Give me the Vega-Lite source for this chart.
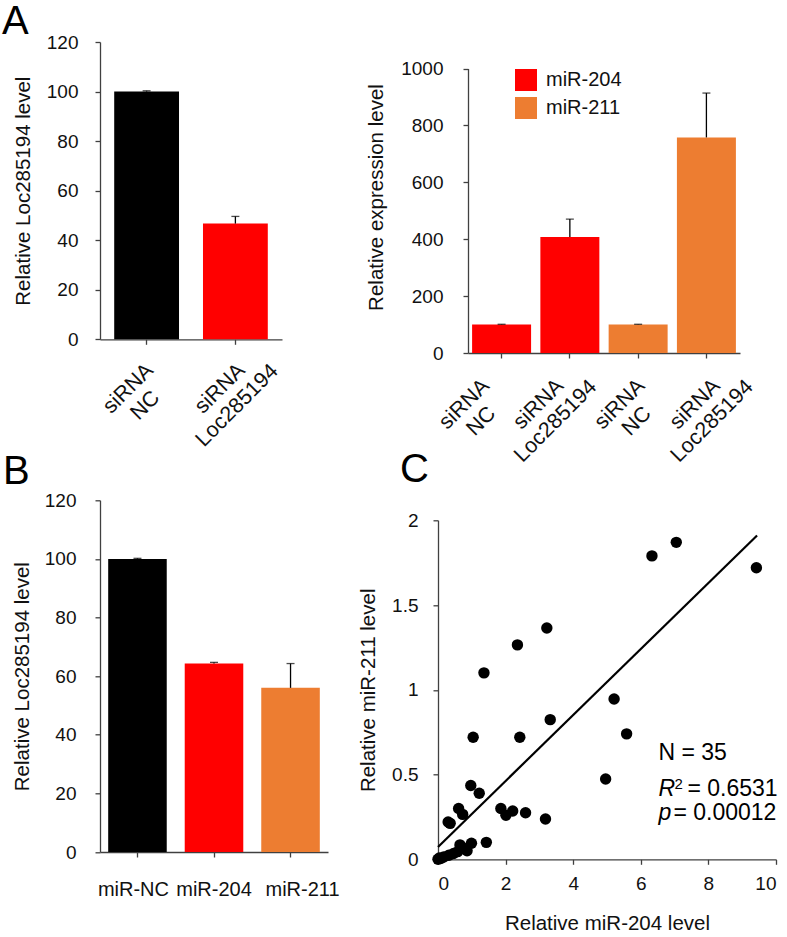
{
  "$schema": "https://vega.github.io/schema/vega-lite/v6.json",
  "padding": {"left": 2, "top": 2, "right": 0, "bottom": 0},
  "background": "white",
  "columns": 2,
  "bounds": "flush",
  "align": "each",
  "spacing": {"row": 147.3, "column": 0},
  "config": {
    "font": "Liberation Sans",
    "view": {"stroke": null},
    "axis": {
      "grid": false,
      "domainColor": "#404040",
      "tickColor": "#404040",
      "domainWidth": 1.3,
      "tickWidth": 1.3,
      "tickSize": 5,
      "labelColor": "#111111",
      "titleColor": "#111111",
      "labelFont": "Liberation Sans",
      "titleFont": "Liberation Sans",
      "labelFontSize": 19,
      "titleFontSize": 20.5,
      "titleFontWeight": "normal"
    },
    "title": {"font": "Liberation Sans", "fontWeight": "normal", "fontSize": 40, "color": "#000000", "anchor": "start", "frame": "group", "baseline": "alphabetic"}
  },
  "resolve": {"scale": {"color": "independent", "x": "independent", "y": "independent"}, "legend": {"color": "independent"}},
  "concat": [
    {
      "width": 338,
      "height": 297.3,
      "title": {"text": "A", "dx": -98, "offset": -9},
      "data": {"values": [
        {"cat": "NC", "v": 100, "hi": 100.3},
        {"cat": "Loc", "v": 46.7, "hi": 49.6}
      ]},
      "encoding": {
        "x": {"field": "cat", "type": "nominal", "sort": null,
          "scale": {"range": [0, 182], "paddingInner": 0.27, "paddingOuter": 0.16},
          "axis": {"title": null, "labelAngle": -45, "labelAlign": "center", "labelBaseline": "middle",
            "labelOffset": {"condition": {"test": "datum.value == 'NC'", "value": -18}, "value": -15},
            "labelPadding": 44, "labelLineHeight": 24, "labelFontSize": 21.5, "labelOverlap": false,
            "labelExpr": "datum.value == 'NC' ? ['siRNA','NC'] : ['siRNA','Loc285194']"}}
      },
      "layer": [
        {"mark": {"type": "bar"},
         "encoding": {
           "y": {"field": "v", "type": "quantitative", "scale": {"domain": [0, 120]},
             "axis": {"title": "Relative Loc285194 level", "values": [0, 20, 40, 60, 80, 100, 120], "labelPadding": 17, "titlePadding": 13}},
           "color": {"field": "cat", "type": "nominal", "scale": {"domain": ["NC", "Loc"], "range": ["#000000", "#ff0000"]}, "legend": null}
         }},
        {"mark": {"type": "rule", "color": "#000000", "strokeWidth": 1.3},
         "encoding": {"y": {"field": "v", "type": "quantitative"}, "y2": {"field": "hi"}}},
        {"mark": {"type": "tick", "color": "#000000", "size": 8, "thickness": 1.3},
         "encoding": {"y": {"field": "hi", "type": "quantitative"}}}
      ]
    },
    {
      "width": 302,
      "height": 311,
      "data": {"values": [
        {"cat": "a", "mir": "miR-204", "v": 100, "hi": 101},
        {"cat": "b", "mir": "miR-204", "v": 408, "hi": 471},
        {"cat": "c", "mir": "miR-211", "v": 100, "hi": 101},
        {"cat": "d", "mir": "miR-211", "v": 758, "hi": 914}
      ]},
      "encoding": {
        "x": {"field": "cat", "type": "nominal", "sort": null,
          "scale": {"range": [30, 302], "paddingInner": 0.136, "paddingOuter": 0.06},
          "axis": {"title": null, "labelAngle": -45, "labelAlign": "center", "labelBaseline": "middle",
            "labelOffset": {"condition": [{"test": "datum.value == 'a'", "value": -37}, {"test": "datum.value == 'b'", "value": -31}, {"test": "datum.value == 'c'", "value": -18}], "value": -11},
            "labelPadding": 46, "labelLineHeight": 24, "labelFontSize": 21.5, "labelOverlap": false,
            "labelExpr": "(datum.value == 'a' || datum.value == 'c') ? ['siRNA','NC'] : ['siRNA','Loc285194']"}}
      },
      "layer": [
        {"mark": {"type": "bar"},
         "encoding": {
           "y": {"field": "v", "type": "quantitative", "scale": {"domain": [0, 1000], "range": [311, 26.6]},
             "axis": {"title": "Relative expression level", "values": [0, 200, 400, 600, 800, 1000], "format": "d", "offset": -30, "labelPadding": 20, "titlePadding": 14, "titleY": 155}},
           "color": {"field": "mir", "type": "nominal", "scale": {"domain": ["miR-204", "miR-211"], "range": ["#ff0000", "#ed7d31"]},
             "legend": {"orient": "none", "legendX": 77, "legendY": 27, "title": null, "symbolType": "square", "symbolSize": 484, "symbolStrokeWidth": 0, "symbolOpacity": 1, "labelFontSize": 20, "labelFont": "Liberation Sans", "labelColor": "#111111", "rowPadding": 6, "labelOffset": 9}}
         }},
        {"mark": {"type": "rule", "color": "#000000", "strokeWidth": 1.3},
         "encoding": {"y": {"field": "v", "type": "quantitative"}, "y2": {"field": "hi"}}},
        {"mark": {"type": "tick", "color": "#000000", "size": 8, "thickness": 1.3},
         "encoding": {"y": {"field": "hi", "type": "quantitative"}}}
      ]
    },
    {
      "width": 338,
      "height": 351.7,
      "title": {"text": "B", "dx": -97, "offset": -1},
      "data": {"values": [
        {"cat": "miR-NC", "v": 100, "hi": 100.2},
        {"cat": "miR-204", "v": 64.3, "hi": 64.7},
        {"cat": "miR-211", "v": 56, "hi": 64.3}
      ]},
      "encoding": {
        "x": {"field": "cat", "type": "nominal", "sort": null,
          "scale": {"range": [0, 228], "paddingInner": 0.235, "paddingOuter": 0.107},
          "axis": {"title": null, "labelAngle": 0, "labelAlign": "center", "labelBaseline": "top", "labelFontSize": 20, "labelPadding": 22,
            "labelOffset": {"condition": [{"test": "datum.value == 'miR-NC'", "value": -4}, {"test": "datum.value == 'miR-211'", "value": 12}], "value": 0}}}
      },
      "layer": [
        {"mark": {"type": "bar"},
         "encoding": {
           "y": {"field": "v", "type": "quantitative", "scale": {"domain": [0, 120]},
             "axis": {"title": "Relative Loc285194 level", "values": [0, 20, 40, 60, 80, 100, 120], "labelPadding": 19, "titlePadding": 12}},
           "color": {"field": "cat", "type": "nominal", "scale": {"domain": ["miR-NC", "miR-204", "miR-211"], "range": ["#000000", "#ff0000", "#ed7d31"]}, "legend": null}
         }},
        {"mark": {"type": "rule", "color": "#000000", "strokeWidth": 1.3},
         "encoding": {"y": {"field": "v", "type": "quantitative"}, "y2": {"field": "hi"}}},
        {"mark": {"type": "tick", "color": "#000000", "size": 8, "thickness": 1.3},
         "encoding": {"y": {"field": "hi", "type": "quantitative"}}}
      ]
    },
    {
      "width": 338,
      "height": 359,
      "title": {"text": "C", "dx": -38, "offset": 10},
      "layer": [
        {"data": {"values": [
          {"x": 6.33, "y": 1.79}, {"x": 7.05, "y": 1.87}, {"x": 9.42, "y": 1.72},
          {"x": 3.22, "y": 1.365}, {"x": 2.35, "y": 1.265}, {"x": 1.36, "y": 1.10},
          {"x": 5.21, "y": 0.946}, {"x": 3.32, "y": 0.824}, {"x": 1.04, "y": 0.72},
          {"x": 2.42, "y": 0.72}, {"x": 5.58, "y": 0.74}, {"x": 4.96, "y": 0.474},
          {"x": 0.97, "y": 0.435}, {"x": 1.22, "y": 0.39}, {"x": 0.61, "y": 0.30},
          {"x": 0.73, "y": 0.265}, {"x": 0.30, "y": 0.22}, {"x": 0.36, "y": 0.212},
          {"x": 1.86, "y": 0.30}, {"x": 2.01, "y": 0.26}, {"x": 2.21, "y": 0.285},
          {"x": 2.59, "y": 0.275}, {"x": 3.18, "y": 0.238}, {"x": 1.43, "y": 0.10},
          {"x": 0.99, "y": 0.095}, {"x": 0.65, "y": 0.085}, {"x": 0.86, "y": 0.05},
          {"x": 0.72, "y": 0.07}, {"x": 0.0, "y": 0.0}, {"x": 0.08, "y": 0.005},
          {"x": 0.17, "y": 0.014}, {"x": 0.32, "y": 0.024}, {"x": 0.46, "y": 0.034},
          {"x": 0.58, "y": 0.045}, {"x": 0.04, "y": 0.008}
        ]},
         "mark": {"type": "circle", "size": 130, "color": "#000000", "opacity": 1},
         "encoding": {
           "x": {"field": "x", "type": "quantitative", "scale": {"domain": [0, 10]},
             "axis": {"title": "Relative miR-204 level", "values": [0, 2, 4, 6, 8, 10], "labelPadding": 10, "titlePadding": 20}},
           "y": {"field": "y", "type": "quantitative", "scale": {"domain": [0, 2], "range": [359, 20]},
             "axis": {"title": "Relative miR-211 level", "values": [0, 0.5, 1, 1.5, 2], "format": "~g", "labelPadding": 15, "titlePadding": 13}}
         }},
        {"data": {"values": [{"x": 0, "y": 0.073, "x2": 9.44, "y2": 1.91}]},
         "mark": {"type": "rule", "color": "#000000", "strokeWidth": 2.2},
         "encoding": {"x": {"field": "x", "type": "quantitative"}, "y": {"field": "y", "type": "quantitative"}, "x2": {"field": "x2"}, "y2": {"field": "y2"}}},
        {"data": {"values": [{"t": "N = 35"}]},
         "mark": {"type": "text", "align": "left", "baseline": "alphabetic", "fontSize": 23, "color": "#000000"},
         "encoding": {"x": {"datum": 6.52}, "y": {"datum": 0.588}, "text": {"field": "t"}}},
        {"data": {"values": [{"t": "R"}]},
         "mark": {"type": "text", "align": "left", "baseline": "alphabetic", "fontSize": 23, "fontStyle": "italic", "color": "#000000"},
         "encoding": {"x": {"datum": 6.52}, "y": {"datum": 0.372}, "text": {"field": "t"}}},
        {"data": {"values": [{"t": "2"}]},
         "mark": {"type": "text", "align": "left", "baseline": "alphabetic", "fontSize": 15, "dx": 16, "dy": -7, "color": "#000000"},
         "encoding": {"x": {"datum": 6.52}, "y": {"datum": 0.372}, "text": {"field": "t"}}},
        {"data": {"values": [{"t": "= 0.6531"}]},
         "mark": {"type": "text", "align": "left", "baseline": "alphabetic", "fontSize": 23, "dx": 29, "color": "#000000"},
         "encoding": {"x": {"datum": 6.52}, "y": {"datum": 0.372}, "text": {"field": "t"}}},
        {"data": {"values": [{"t": "p"}]},
         "mark": {"type": "text", "align": "left", "baseline": "alphabetic", "fontSize": 23, "fontStyle": "italic", "color": "#000000"},
         "encoding": {"x": {"datum": 6.52}, "y": {"datum": 0.23}, "text": {"field": "t"}}},
        {"data": {"values": [{"t": "= 0.00012"}]},
         "mark": {"type": "text", "align": "left", "baseline": "alphabetic", "fontSize": 23, "dx": 15, "color": "#000000"},
         "encoding": {"x": {"datum": 6.52}, "y": {"datum": 0.23}, "text": {"field": "t"}}}
      ]
    }
  ]
}
